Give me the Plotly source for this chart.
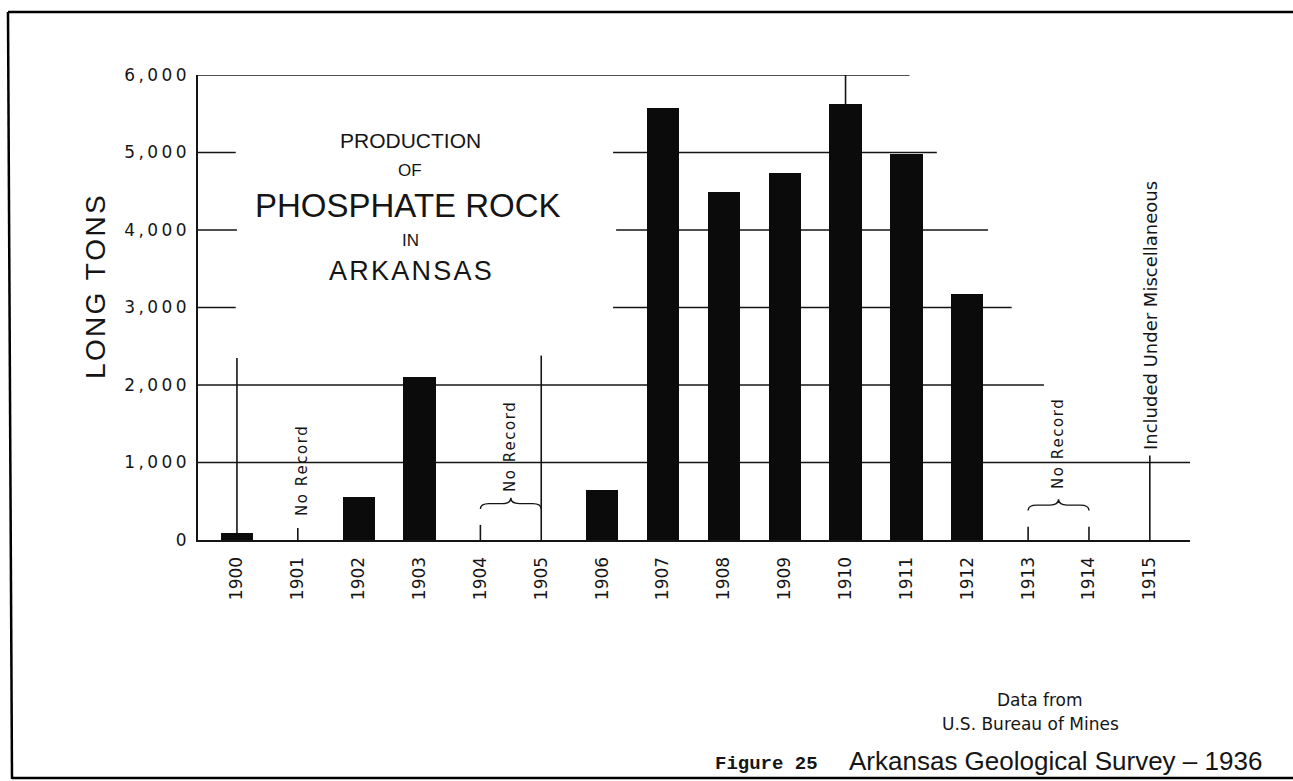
import plotly.graph_objects as go

# production of phosphate rock in Arkansas, long tons (None = no record)
YEARS = list(range(1900, 1916))
TONS = [85, None, 555, 2100, None, None, 640, 5570, 4490, 4730, 5620, 4975, 3170, None, None, None]
Y_TICKS = [0, 1000, 2000, 3000, 4000, 5000, 6000]
Y_TICK_TEXT = ["0", "1,000", "2,000", "3,000", "4,000", "5,000", "6,000"]

W, H = 1293, 781
L, R, T, B = 198, 1190, 75, 540
X_RANGE = [1899.36, 1915.66]
INK = "#151515"


# pixel -> paper helpers for the free text
def px(x):
    return (x - L) / (R - L)


def py(y):
    return (B - y) / (B - T)


def spaced(s, sep="\u200a"):
    return sep.join(s)


def brace(x0, x1, yb, drop=70, tip=75, w=0.14):
    xm = (x0 + x1) / 2
    return (f"M {x0},{yb - drop} Q {x0},{yb} {x0 + w},{yb} L {xm - w},{yb} "
            f"Q {xm},{yb} {xm},{yb + tip} Q {xm},{yb} {xm + w},{yb} "
            f"L {x1 - w},{yb} Q {x1},{yb} {x1},{yb - drop}")


fig = go.Figure(go.Bar(
    x=YEARS, y=TONS, width=0.53,
    marker=dict(color="#0b0b0b", line=dict(width=0)),
    hovertemplate="%{x}: %{y:,} long tons<extra></extra>",
))

shapes = []
# stepped grid lines (value, from year, to year)
x0 = X_RANGE[0]
for val, a, b in [(6000, x0, 1911.05), (5000, x0, 1899.98), (5000, 1906.18, 1911.5),
                  (4000, x0, 1900.0), (4000, 1906.23, 1912.34),
                  (3000, x0, 1899.98), (3000, 1906.18, 1912.73),
                  (2000, x0, 1913.26), (1000, x0, 1915.66)]:
    shapes.append(dict(type="line", xref="x", yref="y", x0=a, x1=b, y0=val, y1=val,
                       line=dict(color=INK, width=1.6), layer="below"))
# vertical marker lines
for yr, top in [(1900, 2350), (1901, 155), (1904, 195), (1905, 2380), (1910, 6000),
                (1913, 170), (1914, 170), (1915, 1090)]:
    shapes.append(dict(type="line", xref="x", yref="y", x0=yr, x1=yr, y0=0, y1=top,
                       line=dict(color=INK, width=1.6), layer="below"))
# braces over the no-record spans
for a, b, yb in [(1904, 1905, 470), (1913, 1914, 450)]:
    shapes.append(dict(type="path", xref="x", yref="y", path=brace(a, b, yb),
                       line=dict(color=INK, width=1.4)))
# page frame
for xa, ya, xb, yb in [(8, 12, 1293, 12), (8, 12, 12, 779), (12, 778, 1293, 778)]:
    shapes.append(dict(type="line", xref="paper", yref="paper",
                       x0=px(xa), y0=py(ya), x1=px(xb), y1=py(yb),
                       line=dict(color="#000", width=2.5)))

ann = []


def text(s, x, y, size, family="Liberation Sans", angle=0, xanchor="center"):
    ann.append(dict(text=s, x=px(x), y=py(y), xref="paper", yref="paper", showarrow=False,
                    textangle=angle, xanchor=xanchor, yanchor="middle",
                    font=dict(size=size, family=family, color=INK)))


text("PRODUCTION", 410, 140, 21)
text("OF", 410, 170, 17)
text("PHOSPHATE ROCK", 408, 205, 33)
text("IN", 410, 241, 17)
text(spaced("ARKANSAS"), 410, 271, 27)
text(spaced("LONG TONS"), 95, 287, 28, angle=-90)

text(spaced("No Record"), 302, 471, 15, family="DejaVu Sans", angle=-90)
text(spaced("No Record"), 510, 447, 15, family="DejaVu Sans", angle=-90)
text(spaced("No Record"), 1058, 444, 15, family="DejaVu Sans", angle=-90)
text("Included Under Miscellaneous", 1150, 316, 18, family="DejaVu Sans", angle=-90)

text("Data from", 1040, 700, 17, family="DejaVu Sans")
text("U.S. Bureau of Mines", 1030, 724, 17, family="DejaVu Sans")
text("<b>Figure 25</b>", 766, 764, 19, family="Liberation Mono")
text("Arkansas Geological Survey \u2013 1936", 1055, 761, 26)

fig.update_layout(
    width=W, height=H,
    margin=dict(l=L, r=W - R, t=T, b=H - B),
    paper_bgcolor="white", plot_bgcolor="white",
    font=dict(family="DejaVu Sans", color=INK),
    showlegend=False, bargap=0,
    shapes=shapes, annotations=ann,
    xaxis=dict(range=X_RANGE, tickvals=YEARS, ticktext=[str(y) for y in YEARS],
               tickangle=-90, ticks="", showgrid=False, zeroline=False,
               showline=True, linecolor=INK, linewidth=2.2,
               ticklabelstandoff=8, tickfont=dict(size=17, family="DejaVu Sans")),
    yaxis=dict(range=[0, 6000], tickvals=Y_TICKS, ticktext=[spaced(t, "\u2009") for t in Y_TICK_TEXT],
               ticks="", showgrid=False, zeroline=False,
               showline=True, linecolor=INK, linewidth=2.2,
               ticklabelstandoff=6, tickfont=dict(size=17, family="DejaVu Sans")),
)

fig.write_html("out.html", config={"displayModeBar": False},
               post_script="document.body.style.margin='0';")
